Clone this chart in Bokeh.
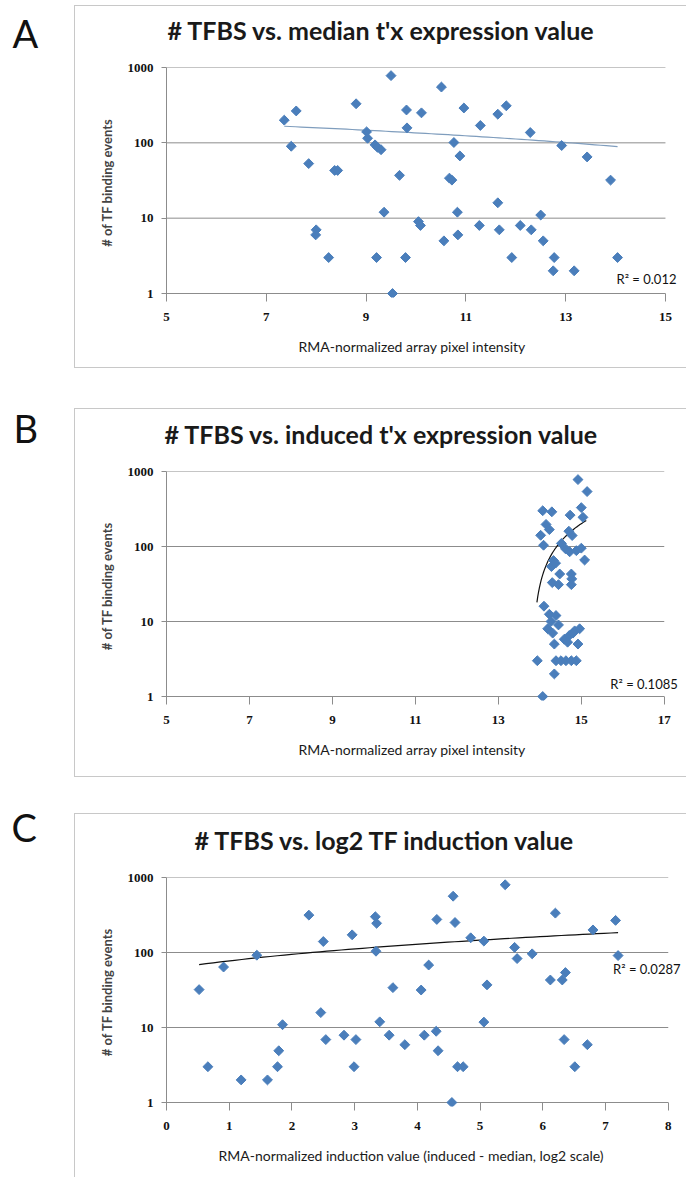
import numpy as np
from bokeh.plotting import figure
from bokeh.layouts import column, row, Spacer
from bokeh.models import Range1d, FixedTicker, BasicTickFormatter, Label, Title
from bokeh.core.properties import value
from bokeh.embed import file_html
from bokeh.resources import INLINE

# ---------------- data ----------------
# Panel A: median expression vs # TFBS
median_expr = [7.36, 7.60, 7.50, 7.85, 8.37, 8.43, 8.00, 7.99, 8.25, 8.80, 9.01, 9.03, 9.18, 9.23,
               9.30, 9.36, 9.21, 9.50, 9.53, 9.67, 9.81, 10.11, 9.82, 9.79, 10.05, 10.09, 10.56,
               10.96, 10.76, 10.88, 10.67, 10.72, 10.83, 10.84, 11.29, 11.27, 11.64, 11.81, 11.64,
               11.67, 11.92, 12.09, 12.29, 12.31, 12.50, 12.55, 12.77, 12.75, 12.92, 13.17, 13.43,
               13.90, 14.04, 10.51]
tfbs_a = [200, 265, 90, 53, 43, 43, 7, 6, 3, 330, 140, 115, 94, 87, 81, 12, 3, 780, 1, 37, 273,
          250, 158, 3, 9, 8, 5, 290, 101, 67, 34, 32, 12, 6, 170, 8, 240, 310, 16, 7, 3, 8, 137, 7,
          11, 5, 3, 2, 92, 2, 65, 32, 3, 550]

# Panel B: induced expression vs # TFBS
induced_expr = [14.92, 15.14, 15.00, 15.04, 14.07, 14.29, 14.15, 14.23, 14.02, 14.09, 14.73, 14.78,
                14.70, 14.52, 14.62, 14.72, 14.88, 15.00, 15.08, 14.33, 14.28, 14.30, 14.45, 14.48,
                14.76, 14.77, 14.76, 14.38,
                14.10, 14.23, 14.39, 14.19, 14.31, 14.35, 14.59, 14.71, 14.84, 14.96, 14.67, 14.92,
                13.94, 14.39, 14.51, 14.63, 14.76, 14.88, 14.35, 14.07, 14.27, 14.80, 14.45]
tfbs_b = [780, 540, 330, 245, 300, 290, 197, 168, 141, 104, 262, 140, 160, 110, 93, 85, 88, 95,
          66, 65, 54, 33, 31, 43, 43, 37, 31, 60,
          16, 12.5, 12, 8, 7, 5, 5.8, 6.5, 7.5, 8, 5.3, 5, 3, 3, 3, 3, 3, 3, 2, 1, 10, 7, 9]

# Panel C: log2 induction vs # TFBS
induction = [0.52, 0.66, 0.91, 1.19, 1.44, 1.61, 1.77, 1.79, 1.85, 2.27, 2.46, 2.50, 2.54, 2.83,
             2.96, 3.02, 2.99, 3.33, 3.35, 3.34, 3.40, 3.55, 3.61, 3.80, 4.06, 4.11, 4.18, 4.30,
             4.31, 4.33, 4.57, 4.60, 4.55, 4.64, 4.73, 4.85, 5.06, 5.11, 5.06, 5.40, 5.55, 5.59,
             5.83, 6.12, 6.20, 6.31, 6.36, 6.34, 6.51, 6.71, 6.80, 7.16, 7.20]
tfbs_c = [32, 3, 64, 2, 92, 2, 3, 4.9, 10.9, 315, 15.8, 140, 6.9, 7.9, 172, 6.9, 3, 300, 245, 104,
          11.9, 7.9, 34, 5.9, 31.6, 7.9, 68, 8.9, 276, 4.9, 563, 251, 1, 3, 3, 157, 142, 37, 11.8,
          800, 117, 83, 96, 43, 335, 43, 54, 6.9, 3, 5.9, 200, 268, 91]

# linear trend lines (end points)
trend_a_x = [7.36, 14.04]
trend_a_y = [166, 89]
trend_b_x = [13.93, 15.12]
trend_b_y = [18, 222]
trend_c_x = [0.52, 7.20]
trend_c_y = [69, 184]

r2_texts = ["R\u00b2 = 0.012", "R\u00b2 = 0.1085", "R\u00b2 = 0.0287"]
titles = ["# TFBS vs. median t'x expression value",
          "# TFBS vs. induced t'x expression value",
          "# TFBS vs. log2 TF induction value"]
x_titles = ["RMA-normalized array pixel intensity",
            "RMA-normalized array pixel intensity",
            "RMA-normalized induction value (induced - median, log2 scale)"]
y_title = "# of TF binding events"
letters = ["A", "B", "C"]
y_ticks = [1, 10, 100, 1000]
x_ticks_a = [5, 7, 9, 11, 13, 15]
x_ticks_b = [5, 7, 9, 11, 13, 15, 17]
x_ticks_c = [0, 1, 2, 3, 4, 5, 6, 7, 8]

# ---------------- styling ----------------
BLUE = "#4A7EBB"
GRID = "#8C8C8C"
FRAME = "#C8C8C8"
LETTER_W = 74
LETTER_H = 60
MAIN_W = 612
LEFT = 91
EXTRA = 4  # px of room below the "1" line so the markers there are not cut


def letter_fig(letter, lx):
    f = figure(width=LETTER_W, height=LETTER_H, output_backend="svg", toolbar_location=None,
               title=None, x_range=Range1d(0, LETTER_W), y_range=Range1d(LETTER_H, 0),
               min_border_left=0, min_border_right=0, min_border_top=0, min_border_bottom=0,
               x_axis_location=None, y_axis_location=None)
    f.grid.visible = False
    f.outline_line_color = None
    f.text(x=[lx], y=[LETTER_H / 2 - 6], text=[letter], text_font=value("Lato"),
           text_font_size="38px", text_baseline="middle", text_align="left",
           text_color="#111111")
    return f


def gap_title(px):
    # blank title used only as vertical padding
    return Title(text=" ", text_font="Lato", text_font_size="%dpx" % px, standoff=0)


def main_fig(title, t_off, xs, ys, xr, px_per_unit, xticks, xtitle, xt_off, tx, ty, tcolor,
             r2, r2x, r2y, H, top, inner, borders):
    x_end = xr[0] + (MAIN_W - 1 - LEFT) / px_per_unit
    decade = inner / 3.0
    y0 = 10 ** (-EXTRA / decade)
    p = figure(width=MAIN_W, height=H, output_backend="svg", toolbar_location=None, title=None,
               x_range=Range1d(xr[0], x_end), y_range=Range1d(y0, 1000), y_axis_type="log",
               min_border_left=LEFT, min_border_right=0, min_border_top=top,
               min_border_bottom=H - top - inner - EXTRA)
    st = {"box-sizing": "border-box"}
    for side in ("top", "left", "bottom", "right"):
        st["border-" + side] = ("1px solid " + FRAME) if side in borders else "none"
    p.styles = st
    p.outline_line_color = None

    # title: padding first (closest to the frame), then the text
    p.add_layout(gap_title(17), "above")
    p.add_layout(Title(text=title, text_font="Lato", text_font_style="bold",
                       text_font_size="25px", text_color="#1A1A1A", align="left",
                       offset=t_off, standoff=0), "above")

    p.grid.visible = False
    # horizontal gridlines, stopping at the last x tick like the original
    p.segment(x0=[xr[0]] * len(y_ticks), x1=[xticks[-1]] * len(y_ticks), y0=y_ticks, y1=y_ticks,
              line_color=GRID, line_width=1, level="underlay")

    p.xaxis.ticker = FixedTicker(ticks=xticks)
    p.yaxis.ticker = FixedTicker(ticks=y_ticks)
    p.yaxis.formatter = BasicTickFormatter()
    for ax in (p.xaxis[0], p.yaxis[0]):
        ax.axis_line_color = GRID
        ax.major_tick_line_color = GRID
        ax.minor_tick_line_color = None
        ax.major_label_text_font = "Liberation Serif"
        ax.major_label_text_font_style = "bold"
        ax.major_label_text_font_size = "13px"
        ax.major_label_text_color = "#111111"
    p.xaxis.axis_line_color = None
    p.xaxis.major_tick_in = EXTRA
    p.xaxis.major_tick_out = 4
    p.yaxis.major_tick_in = 0
    p.yaxis.major_tick_out = 5
    p.xaxis.major_label_standoff = 11
    p.yaxis.major_label_standoff = 8
    p.yaxis.axis_label = y_title
    p.yaxis.axis_label_text_font = "Lato"
    p.yaxis.axis_label_text_font_style = "bold"
    p.yaxis.axis_label_text_font_size = "13px"
    p.yaxis.axis_label_standoff = 10

    p.add_layout(gap_title(8), "below")
    p.add_layout(Title(text=xtitle, text_font="Lato", text_font_style="normal",
                       text_font_size="14px", text_color="#1A1A1A", align="left",
                       offset=xt_off, standoff=0), "below")

    # trend line (linear trend, drawn on the log axis)
    lx = np.linspace(tx[0], tx[1], 60)
    ly = np.interp(lx, tx, ty)
    p.line(lx, ly, line_color=tcolor, line_width=1.2)

    p.scatter(xs, ys, marker="square", size=7, angle=np.pi / 4,
              fill_color=BLUE, line_color=BLUE)

    p.add_layout(Label(x=r2x, y=r2y, text=r2, text_font="Lato", text_font_size="13px",
                       text_baseline="middle", text_align="left", text_color="#111111"))
    return p


HA, HB, HC = 363, 369, 364

pa = main_fig(titles[0], 1, median_expr, tfbs_a, (5, 15), 49.8, x_ticks_a, x_titles[0], 132,
              trend_a_x, trend_a_y, "#7F9DBD", r2_texts[0], 14.02, 1.58, HA, 61, 226,
              ("top", "left", "bottom"))
pb = main_fig(titles[1], -2, induced_expr, tfbs_b, (5, 17), 41.4, x_ticks_b, x_titles[1], 132,
              trend_b_x, trend_b_y, "#111111", r2_texts[1], 15.7, 1.49, HB, 62, 225,
              ("top", "left", "bottom"))
pc = main_fig(titles[2], 28, induction, tfbs_c, (0, 8), 62.6, x_ticks_c, x_titles[2], 52,
              trend_c_x, trend_c_y, "#111111", r2_texts[2], 7.12, 60, HC, 63, 225,
              ("top", "left"))

# panel letters in their own column (centres at y = 37, 433, 832 in the page)
letters_col = column(Spacer(height=8), letter_fig(letters[0], 12),
                     Spacer(height=335), letter_fig(letters[1], 13),
                     Spacer(height=339), letter_fig(letters[2], 11))
panels_col = column(Spacer(height=5), pa, Spacer(height=40), pb, Spacer(height=36), pc)

layout = row(letters_col, panels_col)

open("out.html", "w").write(file_html(layout, INLINE))
